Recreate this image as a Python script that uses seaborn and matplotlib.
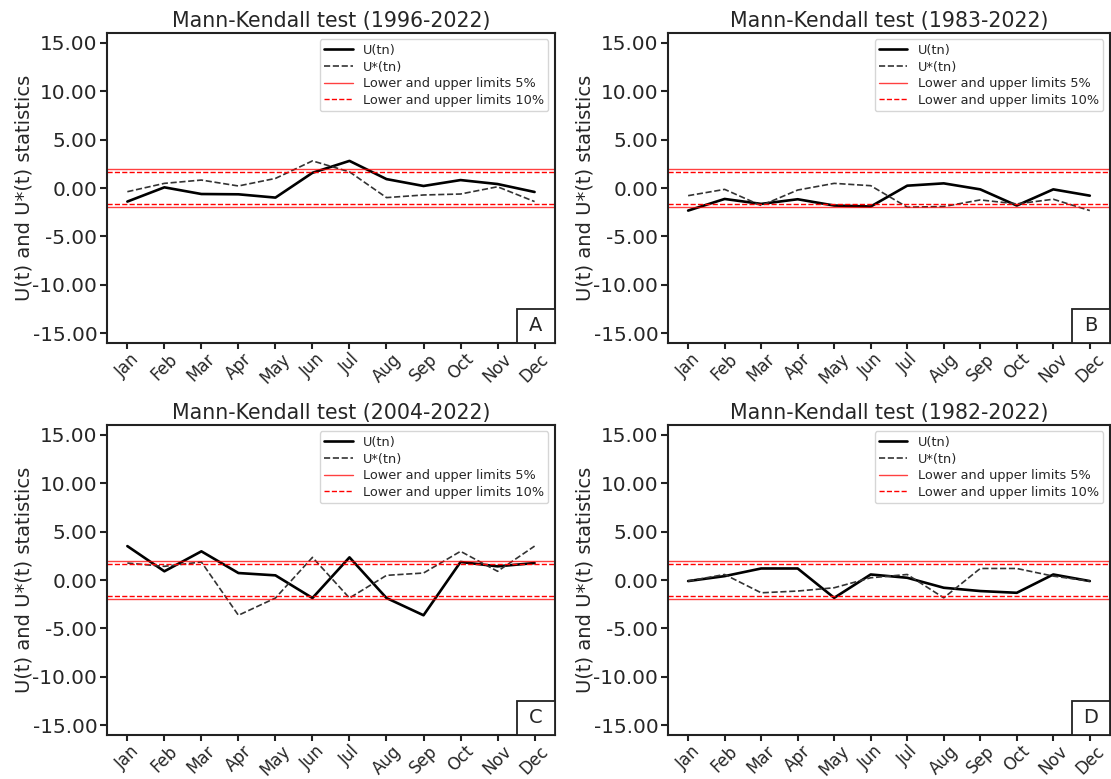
import numpy as np
import pandas as pd
import seaborn as sns
import matplotlib.pyplot as plt
from matplotlib.patches import Rectangle

months = ['Jan', 'Feb', 'Mar', 'Apr', 'May', 'Jun', 'Jul', 'Aug', 'Sep', 'Oct', 'Nov', 'Dec']

periods = ['1996-2022', '1983-2022', '2004-2022', '1982-2022']
letters = ['A', 'B', 'C', 'D']

u_a = [-1.40, 0.07, -0.62, -0.65, -0.99, 1.57, 2.80, 0.92, 0.21, 0.82, 0.41, -0.41]
us_a = [-0.38, 0.48, 0.82, 0.21, 0.99, 2.80, 1.67, -0.99, -0.72, -0.62, 0.13, -1.40]

u_b = [-2.33, -1.13, -1.64, -1.16, -1.81, -1.91, 0.24, 0.48, -0.14, -1.81, -0.14, -0.79]
us_b = [-0.79, -0.14, -1.81, -0.21, 0.48, 0.24, -1.98, -1.91, -1.23, -1.64, -1.16, -2.33]

u_c = [3.50, 0.90, 2.96, 0.72, 0.48, -1.86, 2.34, -1.86, -3.64, 1.86, 1.41, 1.75]
us_c = [1.75, 1.41, 1.86, -3.64, -1.86, 2.34, -1.86, 0.48, 0.72, 2.96, 0.90, 3.50]

u_d = [-0.11, 0.40, 1.19, 1.19, -1.84, 0.57, 0.23, -0.80, -1.14, -1.32, 0.57, -0.11]
us_d = [-0.11, 0.57, -1.32, -1.14, -0.80, 0.23, 0.57, -1.84, 1.19, 1.19, 0.40, -0.11]

u_series = [u_a, u_b, u_c, u_d]
us_series = [us_a, us_b, us_c, us_d]

lim5 = 1.96
lim10 = 1.645
yticks = [-15, -10, -5, 0, 5, 10, 15]

sns.set_style('ticks')
plt.rcParams['font.family'] = ['DejaVu Sans']
plt.rcParams['axes.edgecolor'] = '#222222'

fig = plt.figure(figsize=(11.11, 7.79), dpi=100)
positions = [
    [0.0963, 0.5597, 0.4032, 0.3979],
    [0.6013, 0.5597, 0.3977, 0.3979],
    [0.0963, 0.0565, 0.4032, 0.3979],
    [0.6013, 0.0565, 0.3977, 0.3979],
]

x = np.arange(len(months))
for i in range(4):
    ax = fig.add_axes(positions[i])
    df = pd.DataFrame({'x': x, 'U': u_series[i], 'Us': us_series[i]})
    sns.lineplot(data=df, x='x', y='U', ax=ax, color='black', linewidth=1.9, label='U(tn)')
    sns.lineplot(data=df, x='x', y='Us', ax=ax, color='#333333', linewidth=1.2,
                 linestyle='--', label='U*(tn)')
    ax.axhline(lim5, color='red', linewidth=1.0, alpha=0.75, label='Lower and upper limits 5%')
    ax.axhline(-lim5, color='red', linewidth=1.0, alpha=0.75)
    ax.axhline(lim10, color='red', linewidth=1.0, linestyle='--', label='Lower and upper limits 10%')
    ax.axhline(-lim10, color='red', linewidth=1.0, linestyle='--')

    ax.set_ylim(-16, 16)
    ax.set_yticks(yticks)
    ax.set_yticklabels([f'{v:.2f}' for v in yticks], fontsize=14.4)
    ax.set_xticks(x)
    ax.set_xticklabels(months, rotation=45, fontsize=12)
    ax.tick_params(width=1.5, length=5, color='#222222')
    ax.tick_params(axis='x', pad=0.5, length=4.5)
    ax.tick_params(axis='y', pad=2)
    for s in ax.spines.values():
        s.set_linewidth(1.5)
    ax.set_xlabel('')
    ax.set_ylabel('U(t) and U*(t) statistics', fontsize=14, labelpad=-1)
    ax.set_title(f'Mann-Kendall test ({periods[i]})', fontsize=14.8, pad=4)
    ax.legend(loc='upper right', fontsize=9.3, frameon=True, labelspacing=0.28,
              borderpad=0.35, handlelength=2.2)

    # letter box in the lower right corner
    pos = ax.get_position()
    bw = 38 / (pos.width * 1111)
    bh = 34 / (pos.height * 779)
    ax.add_patch(Rectangle((1 - bw, 0), bw, bh, transform=ax.transAxes,
                           facecolor='white', edgecolor='#222222', linewidth=1.3,
                           zorder=6, clip_on=False))
    ax.text(1 - bw / 2, bh / 2, letters[i], transform=ax.transAxes, ha='center',
            va='center', fontsize=14, zorder=7)

fig.savefig('out.png', dpi=100)
